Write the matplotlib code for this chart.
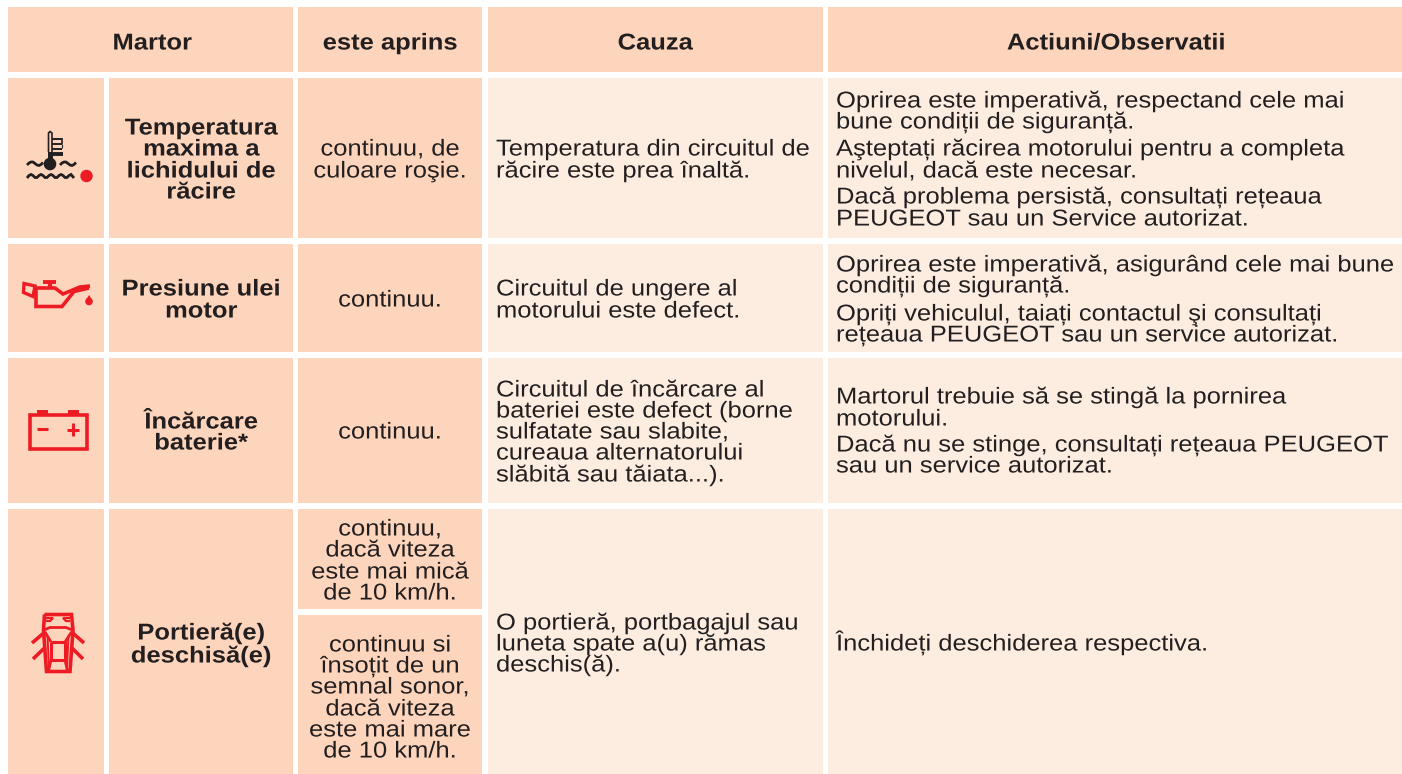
import matplotlib
matplotlib.use('Agg')
import matplotlib.pyplot as plt
from matplotlib.patches import Rectangle, Circle, Polygon
from matplotlib.patheffects import AbstractPathEffect
from matplotlib.transforms import Affine2D

plt.rcParams['font.family'] = ['Liberation Sans', 'DejaVu Sans']

DARK = '#fdd5bc'
LIGHT = '#fdede1'
TEXT = '#231f20'
RED = '#ed1c24'

headers = ['Martor', 'este aprins', 'Cauza', 'Actiuni/Observatii']
names = [['Temperatura', 'maxima a', 'lichidului de', 'răcire'],
         ['Presiune ulei', 'motor'],
         ['Încărcare', 'baterie*'],
         ['Portieră(e)', 'deschisă(e)']]
states = [['continuu, de', 'culoare roşie.'],
          ['continuu.'],
          ['continuu.'],
          ['continuu,', 'dacă viteza', 'este mai mică', 'de 10 km/h.'],
          ['continuu si', 'însoțit de un', 'semnal sonor,', 'dacă viteza', 'este mai mare', 'de 10 km/h.']]
causes = [['Temperatura din circuitul de', 'răcire este prea înaltă.'],
          ['Circuitul de ungere al', 'motorului este defect.'],
          ['Circuitul de încărcare al', 'bateriei este defect (borne', 'sulfatate sau slabite,',
           'cureaua alternatorului', 'slăbită sau tăiata...).'],
          ['O portieră, portbagajul sau', 'luneta spate a(u) rămas', 'deschis(ă).']]
actions = [['Oprirea este imperativă, respectand cele mai', 'bune condiții de siguranță.',
            'Aşteptați răcirea motorului pentru a completa', 'nivelul, dacă este necesar.',
            'Dacă problema persistă, consultați rețeaua', 'PEUGEOT sau un Service autorizat.'],
           ['Oprirea este imperativă, asigurând cele mai bune', 'condiții de siguranță.',
            'Opriți vehiculul, taiați contactul şi consultați', 'rețeaua PEUGEOT sau un service autorizat.'],
           ['Martorul trebuie să se stingă la pornirea', 'motorului.',
            'Dacă nu se stinge, consultați rețeaua PEUGEOT', 'sau un service autorizat.'],
           ['Închideți deschiderea respectiva.']]

# layout, in pixels of the picture
col_x = [(8, 104), (109, 293), (298, 482), (488, 823), (828, 1402)]
row_y = [(7, 72), (78, 238), (244, 352), (358, 503), (509, 774)]
split_y = [(509, 609), (615, 774)]

name_y = [[127, 148, 170, 191], [288, 310], [421, 442], [632, 655]]
state_y = [[148, 170], [299], [431], [528, 549, 571, 592], [644, 665, 686, 708, 729, 750]]
cause_y = [[148, 170], [288, 310], [389, 410, 431, 452, 474], [622, 643, 664]]
action_y = [[100, 121, 148, 170, 196, 218], [264, 285, 313, 334], [396, 418, 444, 465], [643]]

FS = 16.5
WIDEN = 1.115


class Widen(AbstractPathEffect):
    # the print font is wider than Liberation Sans, so stretch it around the anchor
    def __init__(self, x0, sx):
        super().__init__()
        self.x0 = x0
        self.sx = sx

    def draw_path(self, renderer, gc, tpath, affine, rgbFace=None):
        stretch = Affine2D().translate(-self.x0, 0).scale(self.sx, 1).translate(self.x0, 0)
        renderer.draw_path(gc, tpath, affine + stretch, rgbFace)


fig = plt.figure(figsize=(14.02, 7.74), dpi=100)
ax = fig.add_axes([0, 0, 1, 1])
ax.set_xlim(0, 1402)
ax.set_ylim(774, 0)
ax.axis('off')


def cell(x, y, color):
    ax.add_patch(Rectangle((x[0], y[0]), x[1] - x[0], y[1] - y[0], fc=color, ec='none'))


def write(lines, ys, x, ha='left', weight='normal'):
    for line, y in zip(lines, ys):
        ax.text(x, y + 7.5, line, ha=ha, va='baseline', fontsize=FS, fontweight=weight, color=TEXT,
                path_effects=[Widen(x, WIDEN)])


def stroke(xs, ys, color=RED, lw=2.2):
    ax.plot(xs, ys, color=color, lw=lw, solid_capstyle='butt', solid_joinstyle='miter')


# header row
cell((col_x[0][0], col_x[1][1]), row_y[0], DARK)
cell(col_x[2], row_y[0], DARK)
cell(col_x[3], row_y[0], DARK)
cell(col_x[4], row_y[0], DARK)
header_x = [152, 390, 655, 1116]
for h, hx in zip(headers, header_x):
    write([h], [42], hx, ha='center', weight='bold')

# body cells
for i in range(4):
    y = row_y[i + 1]
    cell(col_x[0], y, DARK)
    cell(col_x[1], y, DARK)
    cell(col_x[3], y, LIGHT)
    cell(col_x[4], y, LIGHT)
    if i < 3:
        cell(col_x[2], y, DARK)
    write(names[i], name_y[i], 201, ha='center', weight='bold')
    write(causes[i], cause_y[i], 496)
    write(actions[i], action_y[i], 836)
for y in split_y:
    cell(col_x[2], y, DARK)
for lines, ys in zip(states, state_y):
    write(lines, ys, 390, ha='center')

# coolant temperature icon
stroke([48.5, 48.5, 50, 52, 52], [152, 133, 131.5, 133, 152], TEXT, 1.2)
ax.add_patch(Rectangle((48, 152), 4.5, 9, fc=TEXT, ec='none'))
for ty in [138.5, 143.5, 148.5]:
    stroke([52, 62], [ty, ty], TEXT, 1.4)
stroke([62, 62], [138, 144], TEXT, 1.2)
stroke([62, 62], [148, 144], TEXT, 0.8)
stroke([52, 63], [153.5, 153.5], TEXT, 2.8)
ax.add_patch(Circle((50, 164), 6.3, fc=TEXT, ec='none'))
wave_x = [27, 29, 31, 33, 35, 37, 39, 41, 43]
wave_up = [165, 163, 162, 162, 163.5, 165, 165.5, 164.5, 162.5]
stroke(wave_x, wave_up, TEXT, 2)
stroke([x + 33 for x in wave_x], wave_up, TEXT, 2)
low_x = [27, 29, 31, 33, 35, 37, 39, 41, 43, 45, 47, 49, 51, 53, 55, 57, 59, 61, 63, 65, 67, 69, 71, 74]
low_y = [178, 175.5, 174.5, 175.5, 177.5, 177.5, 175.5, 174.5, 175.5, 177.5, 177.5, 175.5, 174.5,
         175.5, 177.5, 177.5, 175.5, 174.5, 175.5, 177.5, 177.5, 175.5, 174.5, 178]
stroke(low_x, low_y, TEXT, 2)
ax.add_patch(Circle((86.5, 176), 6.2, fc=RED, ec='none'))

# oil pressure icon
ax.add_patch(Polygon([(24, 283.5), (35, 286), (33, 296.5), (23.5, 292.5)], closed=True, fc='none', ec=RED, lw=2.4))
stroke([36, 36, 62, 74, 89], [287, 306.5, 306.5, 291.5, 288], RED, 2.6)
stroke([36, 55, 63, 80, 90], [288, 288, 294, 287, 286], RED, 2.6)
stroke([50, 50], [282, 288], RED, 3)
stroke([43, 56], [282, 282], RED, 2.8)
ax.add_patch(Circle((89, 301.5), 3.8, fc=RED, ec='none'))
ax.add_patch(Polygon([(85.8, 300), (89, 295), (92.2, 300)], closed=True, fc=RED, ec='none'))

# battery icon
ax.add_patch(Rectangle((30, 414.5), 57, 34, fc='none', ec=RED, lw=2.6))
ax.add_patch(Rectangle((37, 410), 11, 4.5, fc=RED, ec='none'))
ax.add_patch(Rectangle((68, 410), 11, 4.5, fc=RED, ec='none'))
stroke([37, 48], [429, 429], RED, 2.2)
stroke([67, 79], [429.5, 429.5], RED, 2.2)
stroke([73, 73], [423, 436], RED, 2.2)

# open door icon
stroke([44.5, 71.5, 73, 70, 46.5, 43.5, 44.5], [614.5, 614.5, 630, 671.5, 671.5, 630, 614.5], RED, 2.6)
stroke([44, 50, 66, 72.5], [630, 627.5, 627.5, 630], RED, 2)
stroke([46, 50, 53, 46], [621, 621, 618, 618], RED, 1.6)
stroke([70, 66, 63, 70], [621, 621, 618, 618], RED, 1.6)
stroke([51, 65, 65, 51, 51], [642, 642, 660, 660, 642], RED, 2.2)
stroke([45, 51], [632, 642], RED, 2)
stroke([71.5, 65], [632, 642], RED, 2)
stroke([51, 48.5], [660, 671], RED, 2)
stroke([65, 67.5], [660, 671], RED, 2)
stroke([47.5, 49], [636, 668], RED, 1.4)
stroke([68.5, 67], [636, 668], RED, 1.4)
stroke([45.5, 32], [631.5, 643], RED, 2.6)
stroke([71, 84], [631.5, 643], RED, 2.6)
stroke([45.5, 33], [647, 659], RED, 2.6)
stroke([71, 83], [647, 659], RED, 2.6)

fig.savefig('out.png', dpi=100)
